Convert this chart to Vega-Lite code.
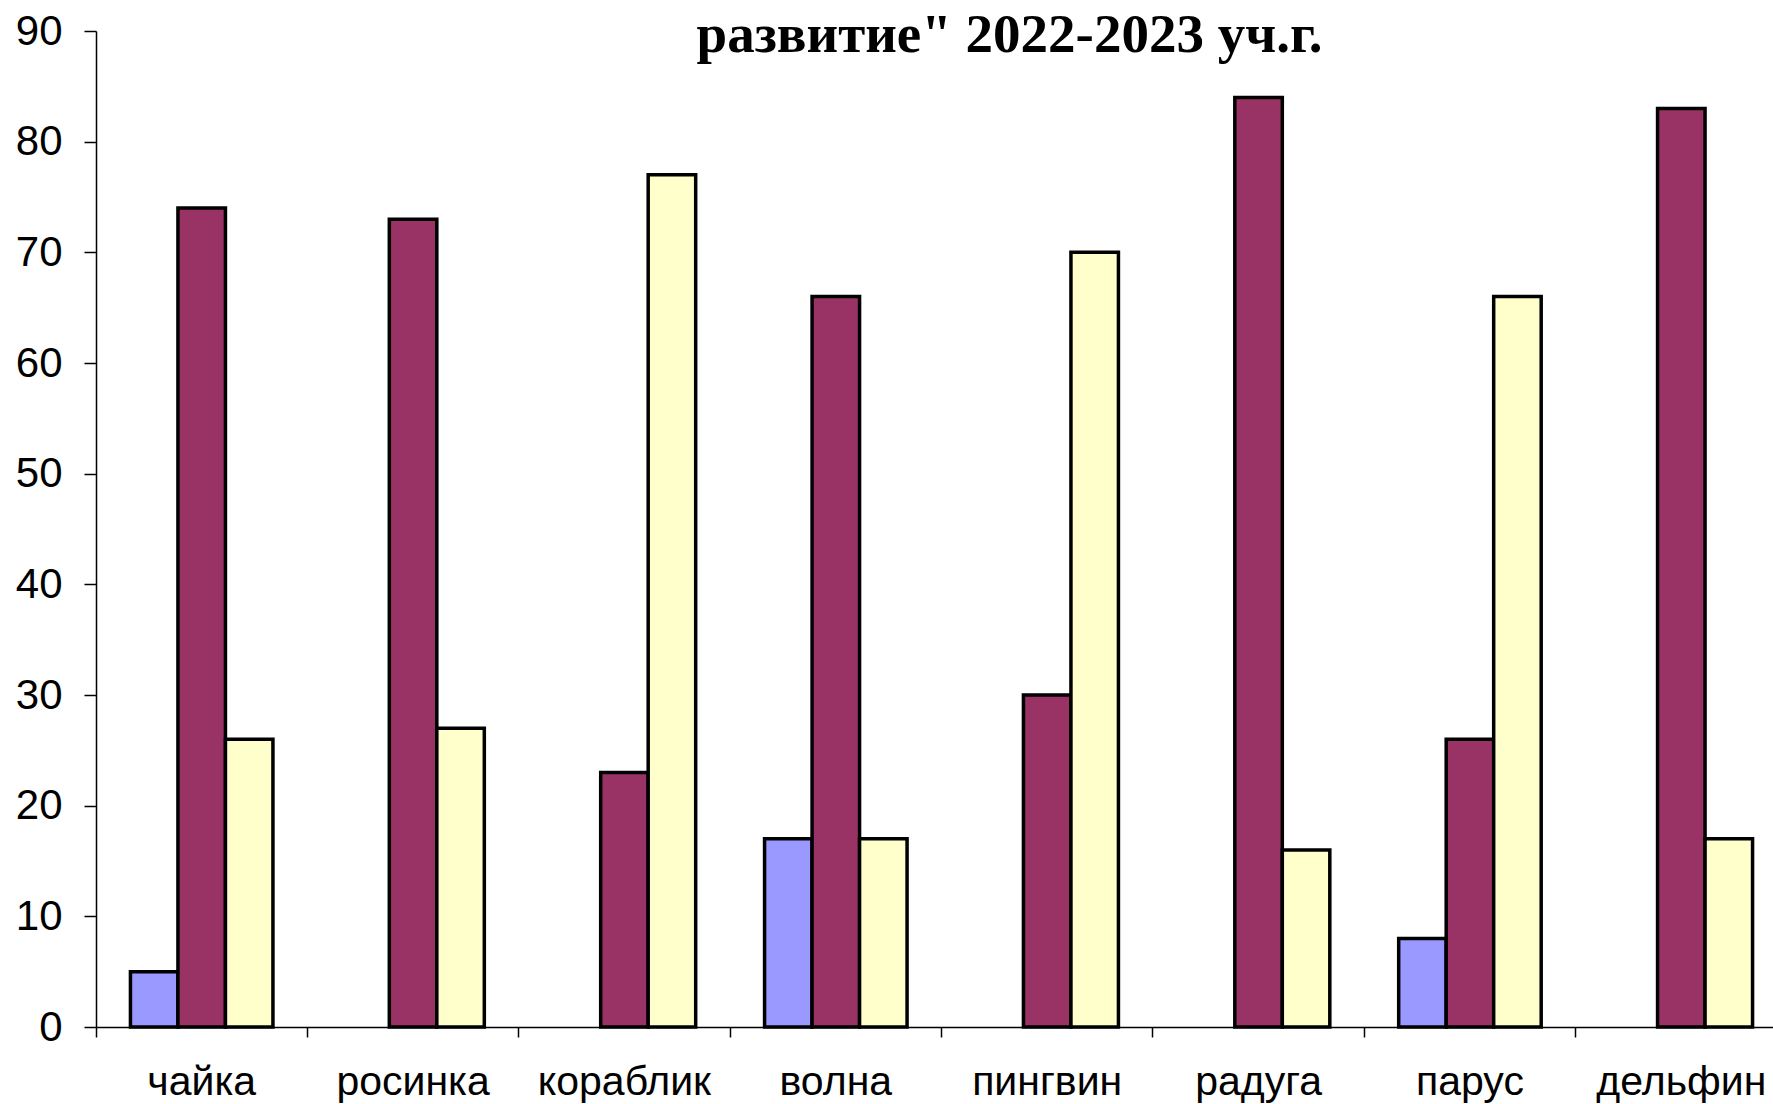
{
  "$schema": "https://vega.github.io/schema/vega-lite/v6.json",
  "width": 1677,
  "height": 996,
  "autosize": {"type": "none"},
  "padding": {"left": 96, "top": 31, "right": 0, "bottom": 77},
  "background": "white",
  "title": {
    "text": "развитие\" 2022-2023 уч.г.",
    "font": "Liberation Serif",
    "fontSize": 55,
    "fontWeight": "bold",
    "color": "black",
    "anchor": "middle",
    "dx": 75,
    "offset": 0,
    "baseline": "alphabetic",
    "dy": 97
  },
  "data": {
    "values": [
      {"group": "чайка", "level": "высокий", "value": 5},
      {"group": "чайка", "level": "средний", "value": 74},
      {"group": "чайка", "level": "низкий", "value": 26},
      {"group": "росинка", "level": "высокий", "value": 0},
      {"group": "росинка", "level": "средний", "value": 73},
      {"group": "росинка", "level": "низкий", "value": 27},
      {"group": "кораблик", "level": "высокий", "value": 0},
      {"group": "кораблик", "level": "средний", "value": 23},
      {"group": "кораблик", "level": "низкий", "value": 77},
      {"group": "волна", "level": "высокий", "value": 17},
      {"group": "волна", "level": "средний", "value": 66},
      {"group": "волна", "level": "низкий", "value": 17},
      {"group": "пингвин", "level": "высокий", "value": 0},
      {"group": "пингвин", "level": "средний", "value": 30},
      {"group": "пингвин", "level": "низкий", "value": 70},
      {"group": "радуга", "level": "высокий", "value": 0},
      {"group": "радуга", "level": "средний", "value": 84},
      {"group": "радуга", "level": "низкий", "value": 16},
      {"group": "парус", "level": "высокий", "value": 8},
      {"group": "парус", "level": "средний", "value": 26},
      {"group": "парус", "level": "низкий", "value": 66},
      {"group": "дельфин", "level": "высокий", "value": 0},
      {"group": "дельфин", "level": "средний", "value": 83},
      {"group": "дельфин", "level": "низкий", "value": 17}
    ]
  },
  "transform": [{"filter": "datum.value > 0"}],
  "mark": {"type": "bar", "stroke": "black", "strokeWidth": 3.5},
  "encoding": {
    "x": {
      "field": "group",
      "type": "nominal",
      "sort": ["чайка", "росинка", "кораблик", "волна", "пингвин", "радуга", "парус", "дельфин"],
      "scale": {"range": [0, 1691], "paddingInner": 0, "paddingOuter": 0},
      "axis": {
        "title": null,
        "bandPosition": 0,
        "labelOffset": 0,
        "labelAngle": 0,
        "tickSize": 10,
        "labelPadding": 25,
        "labelFont": "Liberation Sans",
        "labelFontSize": 41,
        "labelColor": "black",
        "labelOverlap": false,
        "domainColor": "black",
        "domainWidth": 1.5,
        "tickColor": "black",
        "tickWidth": 1.5
      }
    },
    "xOffset": {
      "field": "level",
      "type": "nominal",
      "sort": ["высокий", "средний", "низкий"],
      "scale": {"domain": ["высокий", "средний", "низкий"], "paddingInner": 0, "paddingOuter": 0.725}
    },
    "y": {
      "field": "value",
      "type": "quantitative",
      "scale": {"domain": [0, 90], "nice": false},
      "axis": {
        "title": null,
        "values": [0, 10, 20, 30, 40, 50, 60, 70, 80, 90],
        "grid": false,
        "tickSize": 12,
        "labelPadding": 22,
        "labelFont": "Liberation Sans",
        "labelFontSize": 42,
        "labelColor": "black",
        "labelOverlap": false,
        "domainColor": "black",
        "domainWidth": 1.5,
        "tickColor": "black",
        "tickWidth": 1.5
      }
    },
    "color": {
      "field": "level",
      "type": "nominal",
      "scale": {"domain": ["высокий", "средний", "низкий"], "range": ["#9999FF", "#993366", "#FFFFCC"]},
      "legend": null
    }
  },
  "config": {"view": {"stroke": null}}
}
